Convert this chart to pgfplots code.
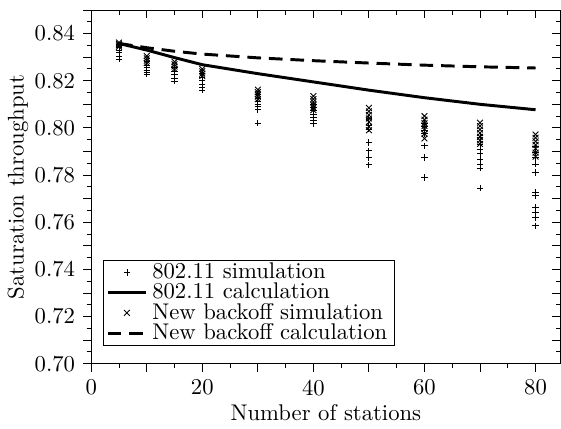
\documentclass[border=0pt]{standalone}
\usepackage{pgfplots}
\pgfplotsset{compat=1.18}

\begin{document}
\begin{tikzpicture}
\pgfplotsset{
  frame/.style={
    scale only axis, width=207pt, height=156pt,
    xmin=0, xmax=84.5, ymin=0.70, ymax=0.85,
    xtick={0,10,...,80}, minor x tick num=1,
    ytick={0.70,0.71,...,0.845}, minor y tick num=1,
    major tick length=3.6pt, minor tick length=2pt,
    tick style={black, thin},
  },
}
% ticks on top and right, pointing in
\begin{axis}[frame, xtick pos=right, ytick pos=right, tick align=inside,
  xticklabels={}, yticklabels={}, tick label style={overlay}]
\end{axis}
\begin{axis}[frame, xtick pos=left, ytick pos=left, tick align=outside,
  xticklabels={0,,20,,40,,60,,80},
  yticklabels={0.70,,0.72,,0.74,,0.76,,0.78,,0.80,,0.82,,0.84},
  /pgf/number format/fixed,
  xlabel={Number of stations}, ylabel={Saturation throughput},
  xlabel style={yshift=3pt}, ylabel style={yshift=-4pt},
  legend cell align=left,
  legend style={at={(0.026,0.05)}, anchor=south west, draw=black, thin,
    inner sep=1pt, nodes={inner ysep=0.2pt}},
]
% 802.11 simulation
\addplot[only marks, mark=+, mark size=1.4pt, black, thin] coordinates {
  (5,0.8350) (5,0.8340) (5,0.8330) (5,0.8320) (5,0.8305) (5,0.8292)
  (10,0.8280) (10,0.8265) (10,0.8255) (10,0.8245) (10,0.8235) (10,0.8228)
  (15,0.8255) (15,0.8240) (15,0.8225) (15,0.8210) (15,0.8198)
  (20,0.8230) (20,0.8215) (20,0.8200) (20,0.8185) (20,0.8172) (20,0.8160)
  (30,0.8140) (30,0.8125) (30,0.8112) (30,0.8100) (30,0.8090) (30,0.8078) (30,0.8020)
  (40,0.8100) (40,0.8085) (40,0.8072) (40,0.8059) (40,0.8045) (40,0.8031) (40,0.8017)
  (50,0.8040) (50,0.8010) (50,0.7995) (50,0.7938) (50,0.7903) (50,0.7875) (50,0.7844)
  (60,0.8020) (60,0.8005) (60,0.7990) (60,0.7975) (60,0.7924) (60,0.7875) (60,0.7790)
  (70,0.7960) (70,0.7930) (70,0.7910) (70,0.7890) (70,0.7868) (70,0.7847) (70,0.7830) (70,0.7745)
  (80,0.7920) (80,0.7895) (80,0.7875) (80,0.7847) (80,0.7811) (80,0.7726) (80,0.7712)
  (80,0.7662) (80,0.7641) (80,0.7620) (80,0.7585)
};
\addlegendentry{802.11 simulation}
% 802.11 calculation
\addplot[black, line width=1.3pt] coordinates {
  (5,0.8358) (10,0.8330) (15,0.8298) (20,0.8268) (30,0.8230) (40,0.8195)
  (50,0.8160) (60,0.8128) (70,0.8100) (80,0.8077)
};
\addlegendentry{802.11 calculation}
% new backoff simulation
\addplot[only marks, mark=x, mark size=1.8pt, black, thin] coordinates {
  (5,0.8362) (5,0.8356) (5,0.8350) (5,0.8344)
  (10,0.8305) (10,0.8295) (10,0.8285) (10,0.8275)
  (15,0.8280) (15,0.8270) (15,0.8260) (15,0.8250)
  (20,0.8250) (20,0.8240) (20,0.8230) (20,0.8220)
  (30,0.8162) (30,0.8152) (30,0.8142) (30,0.8132) (30,0.8122)
  (40,0.8135) (40,0.8122) (40,0.8110) (40,0.8098) (40,0.8086) (40,0.8075)
  (50,0.8085) (50,0.8070) (50,0.8055) (50,0.8040) (50,0.8025) (50,0.8005) (50,0.7990)
  (60,0.8050) (60,0.8035) (60,0.8020) (60,0.8008) (60,0.7995) (60,0.7975) (60,0.7955)
  (70,0.8022) (70,0.8008) (70,0.7993) (70,0.7978) (70,0.7962) (70,0.7947) (70,0.7932)
  (80,0.7972) (80,0.7958) (80,0.7943) (80,0.7928) (80,0.7912) (80,0.7895) (80,0.7878)
};
\addlegendentry{New backoff simulation}
% new backoff calculation
\addplot[black, line width=1.3pt, dash pattern=on 6pt off 3.5pt] coordinates {
  (5,0.8358) (10,0.8340) (15,0.8325) (20,0.8313) (30,0.8297) (40,0.8285)
  (50,0.8275) (60,0.8266) (70,0.8259) (80,0.8254)
};
\addlegendentry{New backoff calculation}
\end{axis}
\path (current axis.north west) ++(0,4.4pt);
\end{tikzpicture}
\end{document}
